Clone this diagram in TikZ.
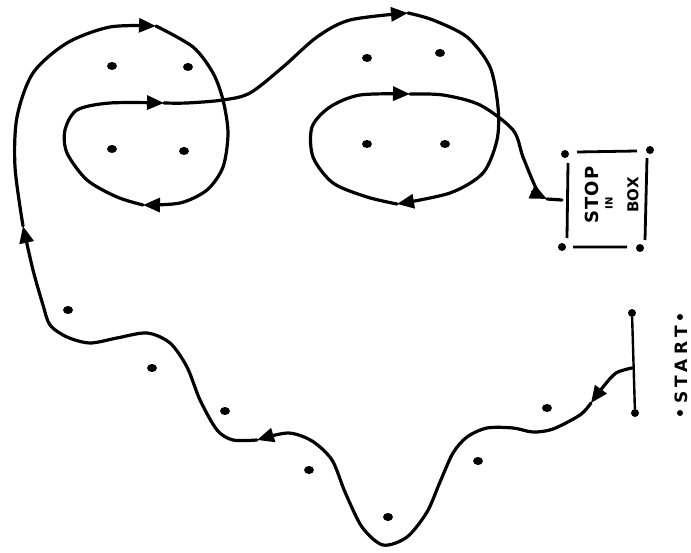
\documentclass[tikz,border=0pt]{standalone}
\usepackage{fontspec}
\setsansfont{DejaVu Sans}
\usetikzlibrary{arrows.meta,shapes.geometric}
\begin{document}
\begin{tikzpicture}[x=1pt,y=-1pt,
  route/.style={line width=3.2pt,line cap=round,line join=round},
  leg/.style={route,-{Triangle[length=17pt,width=14pt]}},
  flag/.style={circle,fill,inner sep=0pt,minimum size=8pt},
  hole/.style={ellipse,fill,inner sep=0pt,minimum width=10pt,minimum height=8pt},
  word/.style={rotate=90,font=\sffamily\bfseries,inner sep=0pt}]
\useasboundingbox (0,0) rectangle (691,553);
% start line
\node[flag] (s1) at (632,313) {};
\node[flag] (s2) at (635,413) {};
\draw[line width=2.4pt] (s1) -- (s2);
\node[word,font=\fontsize{17}{17}\sffamily\bfseries] (start) at (681,365) {S\hspace{4pt}T\hspace{4pt}A\hspace{4pt}R\hspace{4pt}T};
\fill (680,317) circle (3pt) (680,413) circle (3pt);
% stop box
\node[flag] (b1) at (565,154) {};
\node[flag] (b2) at (650,150) {};
\node[flag] (b3) at (562,247) {};
\node[flag] (b4) at (640,248) {};
\draw[line width=2.8pt] (568,163) -- (567,238) (577,152) -- (637,151)
  (647,158) -- (645,240) (573,247) -- (627,247);
\node[word,font=\fontsize{18}{18}\sffamily\bfseries] (stop) at (592,195) {S\hspace{1pt}T\hspace{1pt}O\hspace{1pt}P};
\node[word,font=\fontsize{10}{10}\sffamily\bfseries] (in) at (609,203) {IN};
\node[word,font=\fontsize{15}{15}\sffamily\bfseries] (box) at (633,195) {BOX};
% dots to pass
\foreach \p in {(112,66),(188,67),(112,149),(184,151),
  (367,58),(440,53),(367,144),(445,144),
  (68,310),(152,368),(225,411),(309,470),(388,517),(478,461),(547,408)}
  \node[hole] at \p {};
% the route
\draw[leg] plot[smooth] coordinates {(632,368) (616,373) (603,387) (591,403)};
\draw[leg] plot[smooth] coordinates {(591,403) (580,415) (553,429) (533,432) (513,428) (487,428) (467,437) (453,453) (440,482) (427,512) (407,537) (383,545) (362,527) (345,492) (332,460) (312,441) (288,433) (257,440)};
\draw[leg] plot[smooth] coordinates {(257,440) (233,440) (217,430) (200,400) (187,367) (170,343) (147,333) (117,338) (90,343) (67,337) (50,325) (43,305) (33,270) (23,226)};
\draw[leg] plot[smooth] coordinates {(23,226) (15,167) (17,117) (33,73) (67,43) (110,27) (156,26)};
\draw[leg] plot[smooth] coordinates {(156,26) (193,47) (213,73) (223,100) (228,133) (223,167) (207,190) (180,203) (143,205)};
\draw[leg] plot[smooth] coordinates {(143,205) (117,197) (87,180) (67,153) (65,130) (77,110) (110,103) (164,103)};
\draw[leg] plot[smooth] coordinates {(164,103) (187,103) (223,100) (250,93) (283,67) (317,37) (350,20) (408,13)};
\draw[leg] plot[smooth] coordinates {(408,13) (433,20) (467,37) (490,67) (498,107) (497,140) (483,173) (450,193) (397,204)};
\draw[leg] plot[smooth] coordinates {(397,204) (367,197) (333,183) (313,157) (312,127) (330,107) (360,95) (410,94)};
\draw[leg] plot[smooth] coordinates {(410,94) (443,95) (480,105) (513,130) (523,157) (537,190) (547,199)};
\draw[route] (547,199) -- (562,200);
\end{tikzpicture}
\end{document}
